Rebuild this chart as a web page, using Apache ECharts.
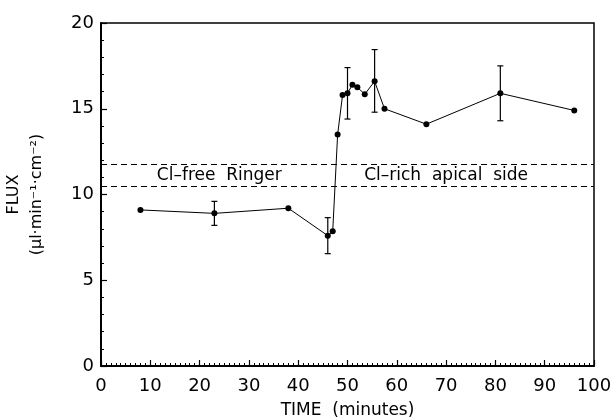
<!DOCTYPE html>
<html>
<head>
<meta charset="utf-8">
<script src="https://cdn.jsdelivr.net/npm/echarts@6/dist/echarts.min.js"></script>
<style>
  html, body { margin: 0; padding: 0; background: #fff; }
  #chart { width: 611px; height: 420px; }
</style>
</head>
<body>
<div id="chart"></div>
<script>
// flux over time
const times = [8, 23, 38, 46, 47, 48, 49, 50, 51, 52, 53.5, 55.5, 57.5, 66, 81, 96]
const flux = [9.1, 8.9, 9.2, 7.6, 7.85, 13.5, 15.8, 15.9, 16.4, 16.25, 15.85, 16.6, 15.0, 14.1, 15.9, 14.9]

// error bars: time, low, high
const errTimes = [23, 46, 50, 55.5, 81]
const errLow = [8.2, 6.55, 14.4, 14.8, 14.3]
const errHigh = [9.6, 8.65, 17.4, 18.45, 17.5]

// dashed band and its two captions
const bandLines = [11.75, 10.5]
const bandLabels = ['Cl–free  Ringer', 'Cl–rich  apical  side']
const bandLabelX = [24, 70]
const bandLabelY = 11.12

const xTicks = [0, 10, 20, 30, 40, 50, 60, 70, 80, 90, 100]
const yTicks = [0, 5, 10, 15, 20]

const font = 'DejaVu Sans'
const chart = echarts.init(document.getElementById('chart'))

const option = {
  backgroundColor: '#fff',
  animation: false,
  grid: {
    left: 101,
    right: 17,
    top: 23,
    bottom: 54,
    outerBoundsMode: 'none',
    show: true,
    borderColor: '#000',
    borderWidth: 1.5
  },
  xAxis: {
    type: 'value',
    min: xTicks[0],
    max: xTicks[xTicks.length - 1],
    interval: 10,
    name: 'TIME  (minutes)',
    nameLocation: 'middle',
    nameGap: 36,
    nameTextStyle: { fontFamily: font, fontSize: 17, color: '#000' },
    axisLine: { lineStyle: { color: '#000', width: 2 } },
    axisTick: { inside: true, length: 6, lineStyle: { color: '#000', width: 1.2 } },
    minorTick: { show: true, splitNumber: 10, length: 3, lineStyle: { color: '#000', width: 1 } },
    axisLabel: { fontFamily: font, fontSize: 18, color: '#000', margin: 11 },
    splitLine: { show: false }
  },
  yAxis: {
    type: 'value',
    min: yTicks[0],
    max: yTicks[yTicks.length - 1],
    interval: 5,
    name: 'FLUX\n(µl·min⁻¹·cm⁻²)',
    nameLocation: 'middle',
    nameRotate: 90,
    nameGap: 53,
    nameTextStyle: { fontFamily: font, fontSize: 16, color: '#000', lineHeight: 23 },
    axisLine: { show: true, lineStyle: { color: '#000', width: 2 } },
    axisTick: { show: true, inside: true, length: 6, lineStyle: { color: '#000', width: 1.2 } },
    minorTick: { show: true, splitNumber: 5, length: 3, lineStyle: { color: '#000', width: 1 } },
    axisLabel: { fontFamily: font, fontSize: 18, color: '#000', margin: 7 },
    splitLine: { show: false }
  },
  series: [
    {
      name: 'flux',
      type: 'line',
      data: times.map((t, i) => [t, flux[i]]),
      symbol: 'circle',
      symbolSize: 6,
      itemStyle: { color: '#000' },
      lineStyle: { color: '#000', width: 1 },
      markLine: {
        silent: true,
        symbol: 'none',
        label: { show: false },
        lineStyle: { color: '#000', type: [6, 4], width: 1 },
        data: bandLines.map(v => ({ yAxis: v }))
      },
      markPoint: {
        silent: true,
        symbol: 'circle',
        symbolSize: 0,
        label: {
          show: true,
          position: 'inside',
          fontFamily: font,
          fontSize: 17,
          color: '#000',
          formatter: p => p.name
        },
        data: bandLabels.map((s, i) => ({ name: s, coord: [bandLabelX[i], bandLabelY] }))
      }
    },
    {
      name: 'err',
      type: 'custom',
      data: errTimes.map((t, i) => [t, errLow[i], errHigh[i]]),
      renderItem: (params, api) => {
        const lo = api.coord([api.value(0), api.value(1)])
        const hi = api.coord([api.value(0), api.value(2)])
        const w = 3
        const style = { stroke: '#000', lineWidth: 1.2 }
        return {
          type: 'group',
          children: [
            { type: 'line', shape: { x1: lo[0], y1: lo[1], x2: hi[0], y2: hi[1] }, style },
            { type: 'line', shape: { x1: lo[0] - w, y1: lo[1], x2: lo[0] + w, y2: lo[1] }, style },
            { type: 'line', shape: { x1: hi[0] - w, y1: hi[1], x2: hi[0] + w, y2: hi[1] }, style }
          ]
        }
      },
      z: 3
    }
  ]
}

chart.setOption(option)
</script>
</body>
</html>
